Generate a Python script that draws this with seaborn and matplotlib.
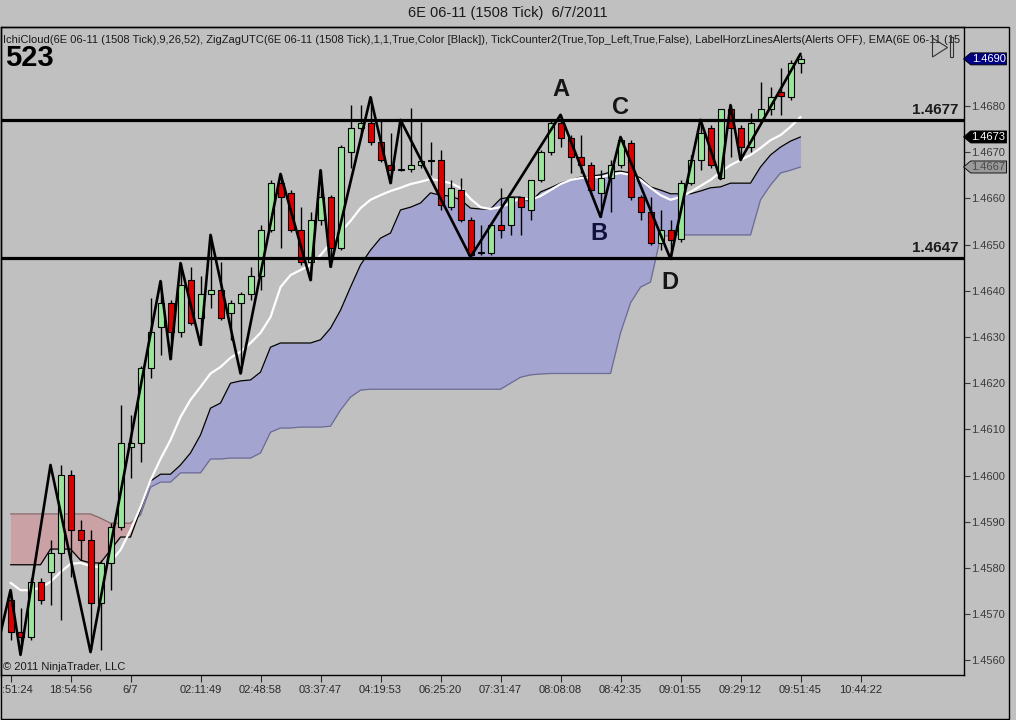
import numpy as np
import pandas as pd
import matplotlib
matplotlib.use("Agg")
import matplotlib.pyplot as plt
import matplotlib.transforms as mtransforms
from matplotlib.patches import Polygon, Rectangle
import seaborn as sns

# ---- 1508 tick bars of 6E 06-11, 6/7/2011 ----
opens = [1.45731, 1.45661, 1.45651, 1.45770, 1.45791, 1.45832, 1.46001, 1.45882, 1.45861, 1.45724,
         1.45811, 1.45889, 1.46062, 1.46071, 1.46233, 1.46322, 1.46374, 1.46311, 1.46423, 1.46341,
         1.46393, 1.46402, 1.46352, 1.46374, 1.46393, 1.46432, 1.46532, 1.46633, 1.46612, 1.46532,
         1.46462, 1.46553, 1.46603, 1.46493, 1.46700, 1.46752, 1.46763, 1.46722, 1.46672, 1.46661,
         1.46664, 1.46672, 1.46681, 1.46683, 1.46581, 1.46618, 1.46553, 1.46482, 1.46482, 1.46542,
         1.46542, 1.46603, 1.46575, 1.46640, 1.46700, 1.46763, 1.46731, 1.46690, 1.46672, 1.46612,
         1.46644, 1.46672, 1.46720, 1.46603, 1.46571, 1.46503, 1.46532, 1.46512, 1.46633, 1.46683,
         1.46752, 1.46644, 1.46794, 1.46752, 1.46711, 1.46770, 1.46794, 1.46830, 1.46819, 1.46893]
highs = [1.45752, 1.45713, 1.45778, 1.45778, 1.45861, 1.46023, 1.46012, 1.45904, 1.45882, 1.45817,
         1.45897, 1.46153, 1.46131, 1.46237, 1.46384, 1.46421, 1.46380, 1.46460, 1.46452, 1.46432,
         1.46521, 1.46462, 1.46380, 1.46397, 1.46452, 1.46542, 1.46640, 1.46653, 1.46618, 1.46581,
         1.46571, 1.46661, 1.46607, 1.46716, 1.46802, 1.46802, 1.46819, 1.46768, 1.46742, 1.46770,
         1.46796, 1.46765, 1.46722, 1.46705, 1.46640, 1.46644, 1.46560, 1.46542, 1.46542, 1.46623,
         1.46603, 1.46603, 1.46640, 1.46705, 1.46770, 1.46781, 1.46737, 1.46737, 1.46679, 1.46661,
         1.46683, 1.46733, 1.46726, 1.46607, 1.46603, 1.46575, 1.46553, 1.46640, 1.46694, 1.46770,
         1.46759, 1.46794, 1.46802, 1.46759, 1.46785, 1.46852, 1.46841, 1.46882, 1.46900, 1.46910]
lows = [1.45644, 1.45623, 1.45644, 1.45722, 1.45720, 1.45687, 1.45781, 1.45817, 1.45623, 1.45623,
        1.45752, 1.45882, 1.45995, 1.46029, 1.46211, 1.46261, 1.46252, 1.46300, 1.46326, 1.46283,
        1.46363, 1.46337, 1.46294, 1.46221, 1.46380, 1.46402, 1.46527, 1.46493, 1.46527, 1.46456,
        1.46423, 1.46542, 1.46452, 1.46488, 1.46666, 1.46733, 1.46716, 1.46679, 1.46633, 1.46659,
        1.46657, 1.46666, 1.46651, 1.46575, 1.46575, 1.46549, 1.46473, 1.46477, 1.46477, 1.46514,
        1.46521, 1.46521, 1.46553, 1.46636, 1.46694, 1.46711, 1.46655, 1.46655, 1.46607, 1.46560,
        1.46571, 1.46666, 1.46597, 1.46553, 1.46499, 1.46488, 1.46469, 1.46506, 1.46629, 1.46661,
        1.46666, 1.46642, 1.46690, 1.46683, 1.46700, 1.46765, 1.46781, 1.46781, 1.46813, 1.46871]
closes = [1.45661, 1.45651, 1.45770, 1.45731, 1.45832, 1.46001, 1.45882, 1.45861, 1.45724, 1.45811,
          1.45889, 1.46071, 1.46071, 1.46233, 1.46311, 1.46374, 1.46311, 1.46413, 1.46330, 1.46393,
          1.46402, 1.46341, 1.46374, 1.46393, 1.46432, 1.46532, 1.46633, 1.46603, 1.46532, 1.46462,
          1.46553, 1.46603, 1.46493, 1.46711, 1.46752, 1.46763, 1.46722, 1.46683, 1.46661, 1.46664,
          1.46672, 1.46681, 1.46682, 1.46586, 1.46623, 1.46553, 1.46477, 1.46483, 1.46542, 1.46532,
          1.46603, 1.46581, 1.46640, 1.46700, 1.46763, 1.46731, 1.46690, 1.46672, 1.46618, 1.46644,
          1.46672, 1.46726, 1.46603, 1.46571, 1.46503, 1.46532, 1.46510, 1.46633, 1.46683, 1.46742,
          1.46672, 1.46794, 1.46752, 1.46711, 1.46763, 1.46794, 1.46819, 1.46822, 1.46893, 1.46902]

ema = [1.45768, 1.45752, 1.45752, 1.45757, 1.45770, 1.45791, 1.45809, 1.45811, 1.45804, 1.45802,
       1.45813, 1.45839, 1.45882, 1.45932, 1.45990, 1.46036, 1.46077, 1.46127, 1.46164, 1.46192,
       1.46221, 1.46235, 1.46255, 1.46268, 1.46287, 1.46309, 1.46343, 1.46408, 1.46434, 1.46445,
       1.46456, 1.46477, 1.46503, 1.46527, 1.46551, 1.46579, 1.46597, 1.46607, 1.46616, 1.46623,
       1.46631, 1.46636, 1.46642, 1.46638, 1.46633, 1.46623, 1.46599, 1.46581, 1.46577, 1.46581,
       1.46590, 1.46601, 1.46597, 1.46605, 1.46618, 1.46631, 1.46640, 1.46644, 1.46646, 1.46646,
       1.46651, 1.46655, 1.46651, 1.46640, 1.46623, 1.46607, 1.46597, 1.46603, 1.46614, 1.46627,
       1.46640, 1.46657, 1.46672, 1.46683, 1.46694, 1.46709, 1.46726, 1.46737, 1.46755, 1.46776]

span_a = [1.45807, 1.45807, 1.45807, 1.45807, 1.45841, 1.45841, 1.45841, 1.45817, 1.45811, 1.45811,
          1.45839, 1.45867, 1.45867, 1.45926, 1.45988, 1.46003, 1.46003, 1.46023, 1.46049, 1.46088,
          1.46146, 1.46157, 1.46200, 1.46205, 1.46207, 1.46224, 1.46278, 1.46287, 1.46287, 1.46287,
          1.46287, 1.46294, 1.46319, 1.46358, 1.46408, 1.46456, 1.46488, 1.46514, 1.46525, 1.46575,
          1.46581, 1.46590, 1.46612, 1.46607, 1.46605, 1.46597, 1.46579, 1.46577, 1.46577, 1.46599,
          1.46603, 1.46603, 1.46592, 1.46614, 1.46623, 1.46633, 1.46640, 1.46646, 1.46648, 1.46651,
          1.46657, 1.46659, 1.46655, 1.46644, 1.46625, 1.46618, 1.46610, 1.46610, 1.46610, 1.46616,
          1.46623, 1.46625, 1.46633, 1.46633, 1.46633, 1.46668, 1.46694, 1.46711, 1.46724, 1.46733]
span_b = [1.45917, 1.45917, 1.45917, 1.45917, 1.45917, 1.45917, 1.45917, 1.45917, 1.45917, 1.45908,
          1.45897, 1.45897, 1.45897, 1.45915, 1.45975, 1.45986, 1.45986, 1.46006, 1.46006, 1.46006,
          1.46036, 1.46036, 1.46038, 1.46038, 1.46038, 1.46049, 1.46094, 1.46103, 1.46103, 1.46105,
          1.46105, 1.46105, 1.46107, 1.46142, 1.46170, 1.46185, 1.46187, 1.46187, 1.46187, 1.46187,
          1.46187, 1.46187, 1.46187, 1.46187, 1.46187, 1.46187, 1.46187, 1.46187, 1.46187, 1.46187,
          1.46200, 1.46213, 1.46218, 1.46220, 1.46221, 1.46221, 1.46221, 1.46221, 1.46221, 1.46221,
          1.46221, 1.46309, 1.46374, 1.46408, 1.46419, 1.46516, 1.46521, 1.46521, 1.46521, 1.46521,
          1.46521, 1.46521, 1.46521, 1.46521, 1.46521, 1.46597, 1.46629, 1.46655, 1.46661, 1.46668]

zz_bar = [-1, 0, 1, 4, 8, 15, 16, 17, 19, 20, 23, 27, 30, 31, 32, 36, 38, 39, 46, 55, 59, 61,
          66, 69, 71, 72, 73, 79]
zz_price = [1.45659, 1.45752, 1.45612, 1.46023, 1.45618, 1.46421, 1.46252, 1.46460, 1.46283,
            1.46521, 1.46221, 1.46653, 1.46423, 1.46661, 1.46452, 1.46819, 1.46633, 1.46770,
            1.46473, 1.46781, 1.46560, 1.46733, 1.46469, 1.46770, 1.46642, 1.46802, 1.46683,
            1.46913]

level_lines = [1.4677, 1.4647]
swing_names = ["A", "B", "C", "D"]
swing_bar = [55, 58.8, 61, 65.9]
swing_price = [1.46835, 1.46523, 1.46796, 1.46417]
swing_colors = ["#151515", "#10103c", "#151515", "#151515"]

time_ticks = [0, 6, 12, 19, 25, 31, 37, 43, 49, 55, 61, 67, 73, 79, 85]
time_labels = [":51:24", "18:54:56", "6/7", "02:11:49", "02:48:58", "03:37:47", "04:19:53",
               "06:25:20", "07:31:47", "08:08:08", "08:42:35", "09:01:55", "09:29:12",
               "09:51:45", "10:44:22"]
price_ticks = [1.4560, 1.4570, 1.4580, 1.4590, 1.4600, 1.4610, 1.4620, 1.4630, 1.4640,
               1.4650, 1.4660, 1.4670, 1.4680]

header = ("IchiCloud(6E 06-11 (1508 Tick),9,26,52), ZigZagUTC(6E 06-11 (1508 Tick),1,1,True,"
          "Color [Black]), TickCounter2(True,Top_Left,True,False), "
          "LabelHorzLinesAlerts(Alerts OFF), EMA(6E 06-11 (15")

BG = "#c0c0c0"
UP = "#9ae69a"
DOWN = "#dd0000"

sns.set_style("white")
plt.rcParams["font.family"] = ["Liberation Sans", "DejaVu Sans"]

df = pd.DataFrame({"bar": np.arange(len(opens)), "open": opens, "high": highs,
                   "low": lows, "close": closes, "ema": ema,
                   "span_a": span_a, "span_b": span_b})

fig = plt.figure(figsize=(10.16, 7.2), dpi=100, facecolor=BG)
ax = fig.add_axes([0.0005, 45 / 720, 963 / 1016, 648 / 720])
ax.set_facecolor(BG)

# cloud
a = df["span_a"].values
b = df["span_b"].values
ax.fill_between(df["bar"], a, b, where=a >= b, interpolate=True, color="#a4a4d0",
                linewidth=0, zorder=1)
ax.fill_between(df["bar"], a, b, where=a < b, interpolate=True, color="#caa2a6",
                linewidth=0, zorder=1)
pink = df[df["bar"] <= 13]
blue = df[df["bar"] >= 13]
sns.lineplot(data=pink, x="bar", y="span_b", color="#8a6468", lw=0.9, ax=ax, zorder=2)
sns.lineplot(data=blue, x="bar", y="span_b", color="#6c6c94", lw=0.9, ax=ax, zorder=2)
sns.lineplot(data=df, x="bar", y="span_a", color="black", lw=0.9, ax=ax, zorder=2)

# ema
sns.lineplot(data=df, x="bar", y="ema", color="white", lw=1.6, ax=ax, zorder=3)

# candles
up = df["close"] >= df["open"]
body_lo = np.minimum(df["open"], df["close"])
body_h = np.maximum(np.abs(df["close"] - df["open"]), 0.000012)
ax.vlines(df["bar"], df["low"], df["high"], color="black", lw=1, zorder=4)
ax.bar(df["bar"], body_h, bottom=body_lo, width=0.6,
       color=np.where(up, UP, DOWN), edgecolor="black", linewidth=0.8, zorder=5)

# zigzag
sns.lineplot(x=zz_bar, y=zz_price, color="black", lw=1.9, sort=False, ax=ax, zorder=6)

# horizontal levels
for lv in level_lines:
    ax.axhline(lv, color="black", lw=2.3, zorder=7)
    ax.text(94.8, lv + 0.00007, f"{lv:.4f}", ha="right", va="bottom", fontsize=11,
            fontweight="bold", color="#1c1c1c", zorder=8)

for name, xb, yp, col in zip(swing_names, swing_bar, swing_price, swing_colors):
    ax.text(xb, yp, name, ha="center", va="center", fontsize=17, fontweight="bold",
            color=col, zorder=8)

ax.set_xlim(-1, 95.3)
ax.set_ylim(1.455684, 1.46971)

# axes styling
for sp in ax.spines.values():
    sp.set_color("black")
    sp.set_linewidth(1)
ax.yaxis.tick_right()
ax.set_yticks(price_ticks)
ax.set_yticklabels([f"{p:.4f}" for p in price_ticks])
ax.tick_params(axis="y", right=True, left=False, length=4, width=0.8, pad=1.5,
               labelsize=8, labelcolor="#3a3a3a", color="#3a3a3a")
ax.set_xticks(time_ticks)
ax.set_xticklabels(time_labels)
ax.tick_params(axis="x", bottom=True, length=5, width=0.8, pad=2, labelsize=8,
               labelcolor="#2a2a2a", color="#2a2a2a")
first = ax.get_xticklabels()[0]
first.set_transform(first.get_transform() +
                    mtransforms.ScaledTranslation(0.07, 0, fig.dpi_scale_trans))
ax.set_xlabel("")
ax.set_ylabel("")

# price markers on the right axis
blend = mtransforms.blended_transform_factory(ax.transAxes, ax.transData)
h = 0.00013
markers = [(closes[-1], "#000080", "white"), (span_a[-1], "black", "white"),
           (span_b[-1], "#9a9a9a", "#4a4a4a")]
for val, fc, tc in markers:
    pts = [(1.0, val), (1.0075, val + h), (1.0447, val + h), (1.0447, val - h), (1.0075, val - h)]
    ax.add_patch(Polygon(pts, closed=True, facecolor=fc, edgecolor="black", lw=0.6,
                         transform=blend, clip_on=False, zorder=10))
    ax.text(1.026, val, f"{val:.4f}", transform=blend, ha="center", va="center",
            fontsize=8, color=tc, clip_on=False, zorder=11)

# header texts
ax.text(0.003, 0.980, header, transform=ax.transAxes, ha="left", va="center",
        fontsize=8, color="#1a1a1a", clip_on=True, zorder=9)
ax.text(0.005, 0.952, "523", transform=ax.transAxes, ha="left", va="center",
        fontsize=21, fontweight="bold", color="black", zorder=9)
ax.text(0.003, 0.0125, "\u00a9 2011 NinjaTrader, LLC", transform=ax.transAxes, ha="left",
        va="center", fontsize=8, color="#1a1a1a", zorder=9)
ax.add_patch(Polygon([(0.9678, 0.983), (0.9678, 0.9537), (0.9834, 0.9684)], closed=True,
                     fill=False, edgecolor="#333333", lw=0.8, transform=ax.transAxes, zorder=9))
ax.add_patch(Rectangle((0.9855, 0.9537), 0.0041, 0.0309, fill=False, edgecolor="#333333",
                       lw=0.8, transform=ax.transAxes, zorder=9))

fig.text(0.5, 1 - 13 / 720, "6E 06-11 (1508 Tick)  6/7/2011", ha="center", va="center",
         fontsize=10.5, color="#1a1a1a")
fig.add_artist(Rectangle((0.0005, 0.0014), 1008 / 1016, 1 - 27 / 720 - 0.0014, fill=False,
                         edgecolor="black", lw=1, transform=fig.transFigure))

fig.savefig("out.png", dpi=100, facecolor=BG)
